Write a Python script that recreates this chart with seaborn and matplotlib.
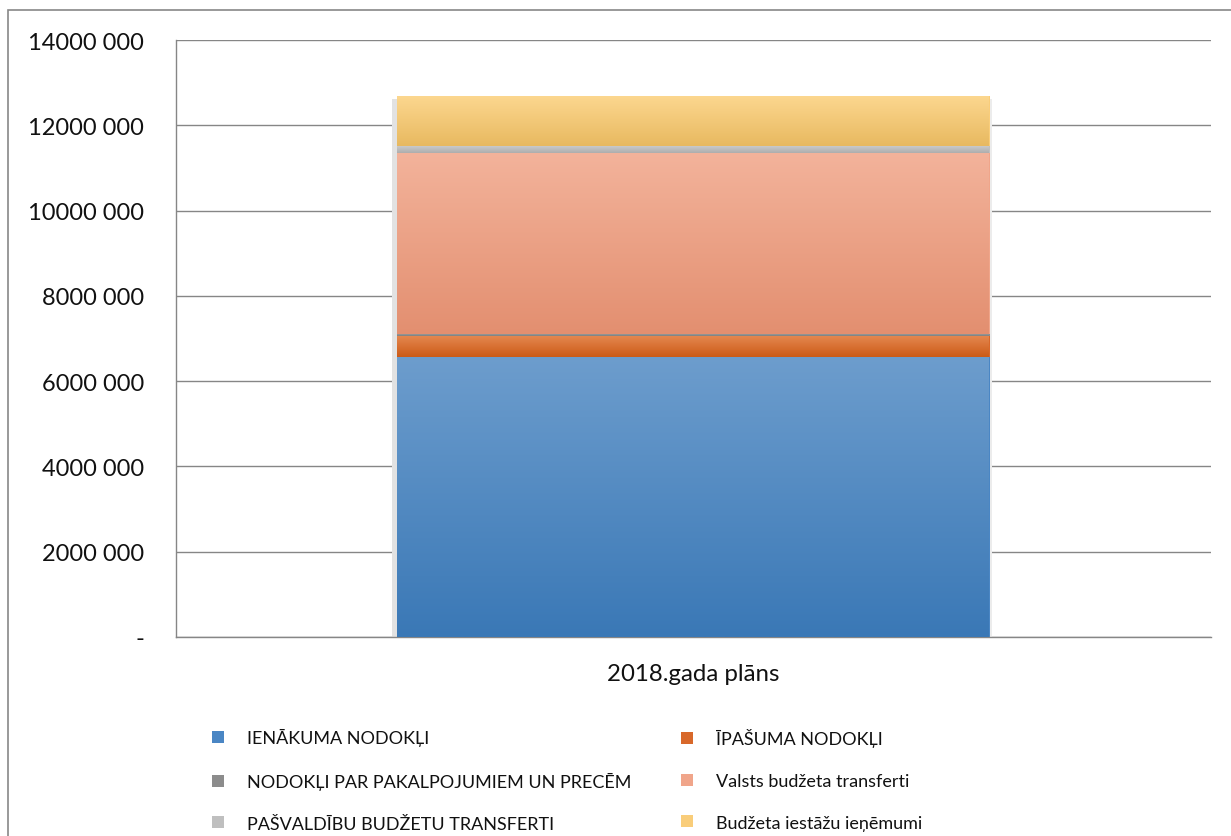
import numpy as np
import pandas as pd
import matplotlib
matplotlib.use("Agg")
import matplotlib.pyplot as plt
import matplotlib.patches as mpatches
from matplotlib.lines import Line2D
from matplotlib.colors import LinearSegmentedColormap
import seaborn as sns

# ---- data ----
category = ["2018.gada plāns"]
series_names = [
    "IENĀKUMA NODOKĻI",
    "ĪPAŠUMA NODOKĻI",
    "NODOKĻI PAR PAKALPOJUMIEM UN PRECĒM",
    "Valsts budžeta transferti",
    "PAŠVALDĪBU BUDŽETU TRANSFERTI",
    "Budžeta iestāžu ieņēmumi",
]
series_values = [6570000, 490000, 40000, 4250000, 160000, 1170000]
ytick_values = [0, 2000000, 4000000, 6000000, 8000000, 10000000, 12000000, 14000000]
ytick_labels = ["-", "2000 000", "4000 000", "6000 000", "8000 000",
                "10000 000", "12000 000", "14000 000"]

# style (top colour, bottom colour, legend colour)
grad = [
    ("#6D9DCD", "#3A78B6", "#4A86C4"),
    ("#E4874F", "#CC5A16", "#D8682A"),
    ("#9A9A9A", "#7E7E7E", "#8C8C8C"),
    ("#F3B39B", "#E38F70", "#F0A58A"),
    ("#CACACA", "#ADADAD", "#BFBFBF"),
    ("#FCD78F", "#E8B960", "#F9CD7A"),
]

sns.set_theme(style="white")
plt.rcParams["font.family"] = ["Lato", "DejaVu Sans"]

fig = plt.figure(figsize=(12.31, 8.37), dpi=100)
ax = fig.add_axes([176 / 1231, 1 - 638 / 837, (1211 - 176) / 1231, (638 - 41) / 837])

df = pd.DataFrame({"cat": category * len(series_names),
                   "series": series_names,
                   "value": series_values})
df["cum"] = df["value"].cumsum()

BW = 0.572
# stacked via cumulative bars drawn from top down
order = list(range(len(series_names)))[::-1]
for i in order:
    sns.barplot(data=df.iloc[[i]], x="cat", y="cum", color=grad[i][2],
                width=BW, saturation=1, ax=ax, linewidth=0, zorder=2)

# gradient fills
bottoms = [0] + list(df["cum"].values[:-1])
xl, xr = -0.5 + (397 - 176) / 1035, -0.5 + (989 - 176) / 1035
for i in range(len(series_names)):
    cmap = LinearSegmentedColormap.from_list("g", [grad[i][1], grad[i][0]])
    g = np.linspace(0, 1, 256).reshape(-1, 1)
    ax.imshow(g, cmap=cmap, aspect="auto", origin="lower",
              extent=[xl, xr, bottoms[i], df["cum"].values[i]], zorder=3)

# subtle shadow at bar left edge
ax.add_patch(mpatches.Rectangle((xl - 0.005, 0), 0.005, df["cum"].values[-1] - 60000,
                                color="#e2e2e2", lw=0, zorder=1.5))
ax.add_patch(mpatches.Rectangle((xr, 0), 0.003, df["cum"].values[-1] - 60000,
                                color="#ececec", lw=0, zorder=1.5))

ax.set_xlim(-0.5, 0.5)
ax.set_ylim(0, 14000000)
ax.set_yticks(ytick_values)
ax.set_yticklabels(ytick_labels, fontsize=17, color="#111111")
ax.set_xticks([0])
ax.set_xticklabels(category, fontsize=17.3, color="#111111")
ax.tick_params(axis="y", length=0, pad=23)
ax.tick_params(axis="x", length=0, pad=19)
ax.set_xlabel("")
ax.set_ylabel("")
ax.yaxis.grid(True, color="#868686", lw=1)
ax.set_axisbelow(True)
for s in ["top", "right"]:
    ax.spines[s].set_visible(False)
for s in ["left", "bottom"]:
    ax.spines[s].set_color("#868686")
    ax.spines[s].set_linewidth(1)

# legend (two columns placed separately)
handles = [Line2D([0], [0], marker="s", linestyle="", markersize=8,
                  markerfacecolor=grad[i][2], markeredgewidth=0) for i in range(6)]
col1 = [0, 2, 4]
col2 = [1, 3, 5]
for idx, xpos in ((col1, 195), (col2, 664)):
    leg = fig.legend([handles[i] for i in idx], [series_names[i] for i in idx],
                     loc="upper left", bbox_to_anchor=(xpos / 1231, 1 - 720 / 837),
                     frameon=False, fontsize=13, handletextpad=0.9,
                     labelspacing=1.43, borderpad=0, handlelength=1.5)
    for t in leg.get_texts():
        t.set_color("#111111")

# outer chart border
fig.add_artist(mpatches.Rectangle((8 / 1231, -0.05), 1.2, 1 - 11 / 837 + 0.05,
                                  transform=fig.transFigure, fill=False,
                                  edgecolor="#888888", lw=1.2))

fig.savefig("out.png", dpi=100)
